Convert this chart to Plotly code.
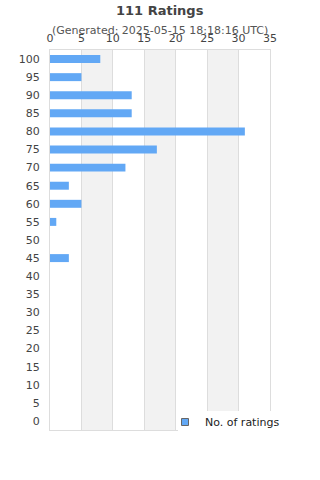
import plotly.graph_objects as go

categories = ["100", "95", "90", "85", "80", "75", "70", "65", "60", "55", "50",
              "45", "40", "35", "30", "25", "20", "15", "10", "5", "0"]
counts = [8, 5, 13, 13, 31, 17, 12, 3, 5, 1, 0, 3, 0, 0, 0, 0, 0, 0, 0, 0, 0]
x_ticks = [0, 5, 10, 15, 20, 25, 30, 35]
series_name = "No. of ratings"
title = "111 Ratings"
subtitle = "(Generated: 2025-05-15 18:18:16 UTC)"

BAR = "#62a8f5"
GRID = "#dddddd"
FONT = "DejaVu Sans, sans-serif"

fig = go.Figure()
fig.add_trace(go.Bar(
    y=categories, x=counts, orientation="h",
    marker=dict(color=BAR, line=dict(width=0)),
    width=0.44, showlegend=False, hoverinfo="x+y",
))
fig.add_trace(go.Scatter(
    x=[None], y=[None], mode="markers", name=series_name,
    marker=dict(symbol="square", size=7, color=BAR, line=dict(color="#666666", width=1)),
    showlegend=True,
))

shapes = []
for i in range(1, len(x_ticks) - 1, 2):
    shapes.append(dict(type="rect", xref="x", yref="paper",
                       x0=x_ticks[i], x1=x_ticks[i + 1], y0=0, y1=1,
                       fillcolor="#f2f2f2", line=dict(width=0), layer="below"))
# white legend background box overlapping the plot corner
shapes.append(dict(type="rect", xref="paper", yref="paper",
                   x0=128 / 220, x1=1.08, y0=-0.01, y1=19 / 380,
                   fillcolor="white", line=dict(width=0), layer="above"))

fig.update_layout(
    width=320, height=480,
    margin=dict(l=50, r=50, t=50, b=50),
    paper_bgcolor="white", plot_bgcolor="white",
    font=dict(family=FONT, size=11, color="#444444"),
    shapes=shapes,
    annotations=[
        dict(text="<b>" + title + "</b>", xref="paper", yref="paper", x=0.5, y=1,
             yshift=40, showarrow=False, font=dict(size=13, color="#444444"),
             xanchor="center", yanchor="middle"),
        dict(text=subtitle, xref="paper", yref="paper", x=0.5, y=1,
             yshift=20, showarrow=False, font=dict(size=11, color="#555555"),
             xanchor="center", yanchor="middle"),
    ],
    xaxis=dict(side="top", range=[0, 35], tickvals=x_ticks, ticktext=[str(t) for t in x_ticks],
               showgrid=True, gridcolor=GRID, gridwidth=1, zeroline=False,
               showline=True, linecolor=GRID, linewidth=1, mirror=True,
               ticks="", ticklen=0, ticklabelstandoff=3,
               tickfont=dict(size=11, color="#444444"), fixedrange=True),
    yaxis=dict(type="category", categoryorder="array", categoryarray=categories,
               autorange="reversed", showgrid=False, zeroline=False,
               showline=True, linecolor=GRID, linewidth=1, mirror=True,
               ticks="", ticklabelstandoff=7, tickfont=dict(size=11, color="#444444"),
               fixedrange=True),
    legend=dict(x=115 / 220, y=8 / 380, xanchor="left", yanchor="middle",
                bgcolor="rgba(0,0,0,0)",
                font=dict(size=11, color="#222222"), borderwidth=0,
                itemwidth=30),
)

fig.write_html("out.html")
